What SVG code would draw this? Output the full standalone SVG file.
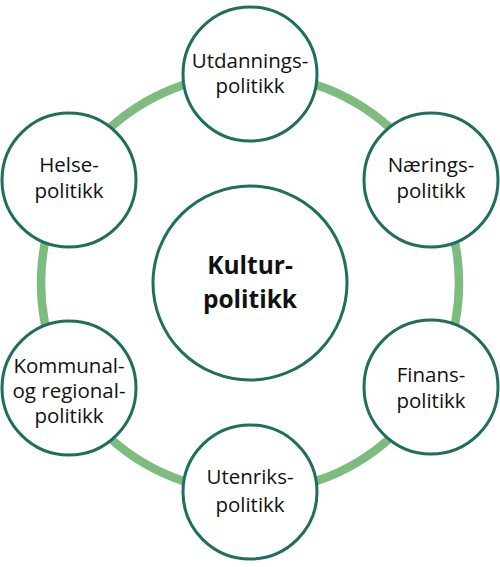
<svg xmlns="http://www.w3.org/2000/svg" width="500" height="567" viewBox="0 0 500 567">
<style>
.ring{fill:none;stroke:#7dbb7e;stroke-width:8.5}
.node{fill:#ffffff;stroke:#1f6e5e;stroke-width:3}
.lbl{font-family:"Open Sans","Noto Sans",sans-serif;font-size:20.5px;fill:#111111;text-anchor:middle}
.main{font-family:"Open Sans","Noto Sans",sans-serif;font-size:24.5px;font-weight:bold;fill:#111111;text-anchor:middle}
</style>
<rect width="500" height="567" fill="#ffffff"/>
<g id="connectors">
<circle class="ring" cx="250" cy="283" r="209"/>
</g>
<g id="center">
<circle class="node" cx="250" cy="283" r="97"/>
<text class="main" x="250" y="274">Kultur-</text>
<text class="main" x="250" y="308">politikk</text>
</g>
<g id="utdanning">
<circle class="node" cx="250" cy="74" r="67"/>
<text class="lbl" x="250" y="68">Utdannings-</text>
<text class="lbl" x="250" y="93">politikk</text>
</g>
<g id="naering">
<circle class="node" cx="431" cy="180" r="67"/>
<text class="lbl" x="431" y="172">Nærings-</text>
<text class="lbl" x="431" y="198">politikk</text>
</g>
<g id="finans">
<circle class="node" cx="431" cy="387" r="67"/>
<text class="lbl" x="431" y="382">Finans-</text>
<text class="lbl" x="431" y="408">politikk</text>
</g>
<g id="utenriks">
<circle class="node" cx="250" cy="492" r="67"/>
<text class="lbl" x="250" y="484">Utenriks-</text>
<text class="lbl" x="250" y="512">politikk</text>
</g>
<g id="kommunal">
<circle class="node" cx="69" cy="388" r="67"/>
<text class="lbl" x="69" y="373">Kommunal-</text>
<text class="lbl" x="69" y="398">og regional-</text>
<text class="lbl" x="69" y="423">politikk</text>
</g>
<g id="helse">
<circle class="node" cx="69" cy="180" r="67"/>
<text class="lbl" x="69" y="172">Helse-</text>
<text class="lbl" x="69" y="198">politikk</text>
</g>
</svg>
